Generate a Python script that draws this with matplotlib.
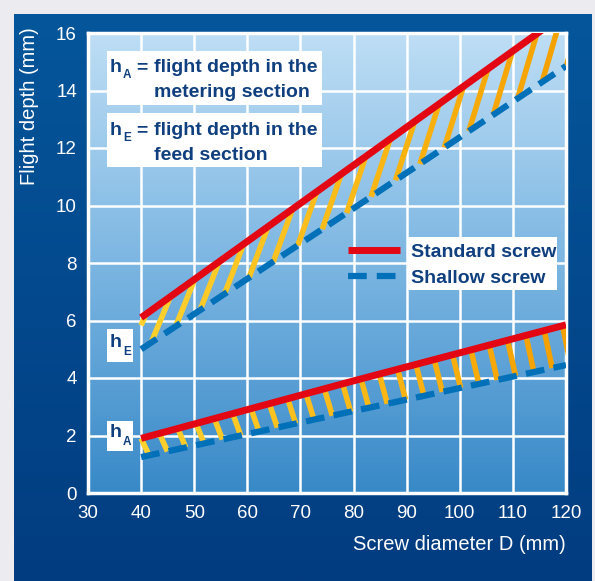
import matplotlib.pyplot as plt
import numpy as np
from matplotlib.colors import LinearSegmentedColormap
from matplotlib.patches import Rectangle

# screw diameter D (mm) and flight depths (mm)
diameters = [40, 80, 120]
std_feed = [6.1, 11.4, 16.7]        # standard screw, h_E
shallow_feed = [5.0, 9.9, 14.85]    # shallow screw, h_E
std_meter = [1.9, 3.9, 5.85]        # standard screw, h_A
shallow_meter = [1.25, 2.85, 4.45]  # shallow screw, h_A

x_ticks = [30, 40, 50, 60, 70, 80, 90, 100, 110, 120]
y_ticks = [0, 2, 4, 6, 8, 10, 12, 14, 16]

W, H = 595, 581
NAVY = '#0f3f7e'
FONT = ['Liberation Sans', 'DejaVu Sans']
plt.rcParams['font.family'] = FONT


def px(x, y):
    return x / W, 1 - y / H


def at(x, ys):
    # linear inter/extrapolation along a curve
    if x < diameters[0]:
        s = (ys[1] - ys[0]) / (diameters[1] - diameters[0])
        return ys[0] + s * (x - diameters[0])
    if x > diameters[-1]:
        s = (ys[-1] - ys[-2]) / (diameters[-1] - diameters[-2])
        return ys[-1] + s * (x - diameters[-1])
    return np.interp(x, diameters, ys)


hatch_cmap = LinearSegmentedColormap.from_list('h', ['#ffd22e', '#f4a000'])


def hatch(ax, upper, lower, start, step, offset, from_top):
    for x0 in np.arange(start, 124, step):
        if from_top:
            xa, ya = x0, at(x0, upper)
            xb, yb = x0 + offset, at(x0 + offset, lower)
        else:
            xa, ya = x0, at(x0, lower)
            xb, yb = x0 + offset, at(x0 + offset, upper)
        if xb < 40:
            continue
        if xa < 40:
            t = (40 - xa) / (xb - xa)
            xa, ya = 40, ya + t * (yb - ya)
        c = hatch_cmap((0.5 * (xa + xb) - 40) / 80)
        ax.plot([xa, xb], [ya, yb], color=c, lw=4, solid_capstyle='butt', zorder=3)


fig = plt.figure(figsize=(W / 100, H / 100), dpi=100)
fig.patch.set_facecolor('#ececf0')

# dark blue panel
bg = fig.add_axes([14 / W, 0, (592 - 14) / W, 1 - 14 / H])
bg.axis('off')
panel = LinearSegmentedColormap.from_list('p', ['#05569b', '#023c80'])
bg.imshow(np.linspace(0, 1, 256).reshape(-1, 1), cmap=panel, aspect='auto',
          extent=[0, 1, 0, 1])

ax = fig.add_axes([88 / W, 1 - 493 / H, 478 / W, 460 / H])
sky = LinearSegmentedColormap.from_list('s', ['#bedef5', '#7cb6e2', '#3889c8'])
ax.imshow(np.linspace(0, 1, 256).reshape(-1, 1), cmap=sky, aspect='auto',
          extent=[30, 120, 0, 16], zorder=0)
ax.set_xlim(30, 120)
ax.set_ylim(0, 16)
ax.set_xticks(x_ticks)
ax.set_yticks(y_ticks)
ax.grid(True, color='white', lw=1.8)
for s in ax.spines.values():
    s.set_color('white')
    s.set_linewidth(2.5)
ax.tick_params(length=0, labelcolor='white', labelsize=13.5)
ax.tick_params(axis='y', pad=8)
ax.tick_params(axis='x', pad=9)

# hatching between the two screws
hatch(ax, std_feed, shallow_feed, 41.9 - 4.6, 4.6, 3.6, from_top=False)
hatch(ax, std_meter, shallow_meter, 40, 3.45, 1.5, from_top=True)

for std, shallow in [(std_feed, shallow_feed), (std_meter, shallow_meter)]:
    ax.plot(diameters, shallow, color='#0070b8', lw=4.5, dashes=(3.0, 1.5),
            dash_capstyle='butt', zorder=4)
    ax.plot(diameters, std, color='#e30613', lw=5, solid_capstyle='butt', zorder=5)

# axis labels
fig.text(*px(566, 545), 'Screw diameter D (mm)', color='white', fontsize=14.5,
         ha='right', va='center')
fig.text(*px(30, 27), 'Flight depth (mm)', color='white', fontsize=14.5,
         rotation=90, ha='center', va='top')


def box(x0, y0, x1, y1):
    fig.patches.append(Rectangle(px(x0, y1), (x1 - x0) / W, (y1 - y0) / H,
                                 transform=fig.transFigure, facecolor='white',
                                 edgecolor='none', zorder=6))


def label(x, y, s, size=14, **kw):
    fig.text(*px(x, y), s, color=NAVY, fontsize=size, fontweight='bold',
             va='baseline', zorder=7, **kw)


# explanation boxes
box(107, 51, 322, 105)
label(110, 72, 'h')
label(123, 78, 'A', size=8.5)
label(136, 72, '=')
label(154, 72, 'flight depth in the')
label(154, 97, 'metering section')

box(107, 113, 322, 167)
label(110, 135, 'h')
label(123, 141, 'E', size=8.5)
label(136, 135, '=')
label(154, 135, 'flight depth in the')
label(154, 160, 'feed section')

box(107, 329, 133, 362)
label(110, 347, 'h')
label(123, 355, 'E', size=8.5)

box(107, 421, 133, 451)
label(110, 437, 'h')
label(123, 445, 'A', size=8.5)

# legend
box(407, 237, 557, 290)
label(411, 257, 'Standard screw')
label(411, 283, 'Shallow screw')
xa, ya = px(348, 250)
xb, yb = px(400, 250)
ax.plot([xa, xb], [ya, yb], transform=fig.transFigure, clip_on=False,
        color='#e30613', lw=5, solid_capstyle='butt', zorder=8)
xa, ya = px(348, 276)
xb, yb = px(400, 276)
ax.plot([xa, xb], [ya, yb], transform=fig.transFigure, clip_on=False,
        color='#0070b8', lw=4.5, dashes=(3.0, 1.6), dash_capstyle='butt', zorder=8)

fig.savefig('out.png', dpi=100, facecolor=fig.get_facecolor())
